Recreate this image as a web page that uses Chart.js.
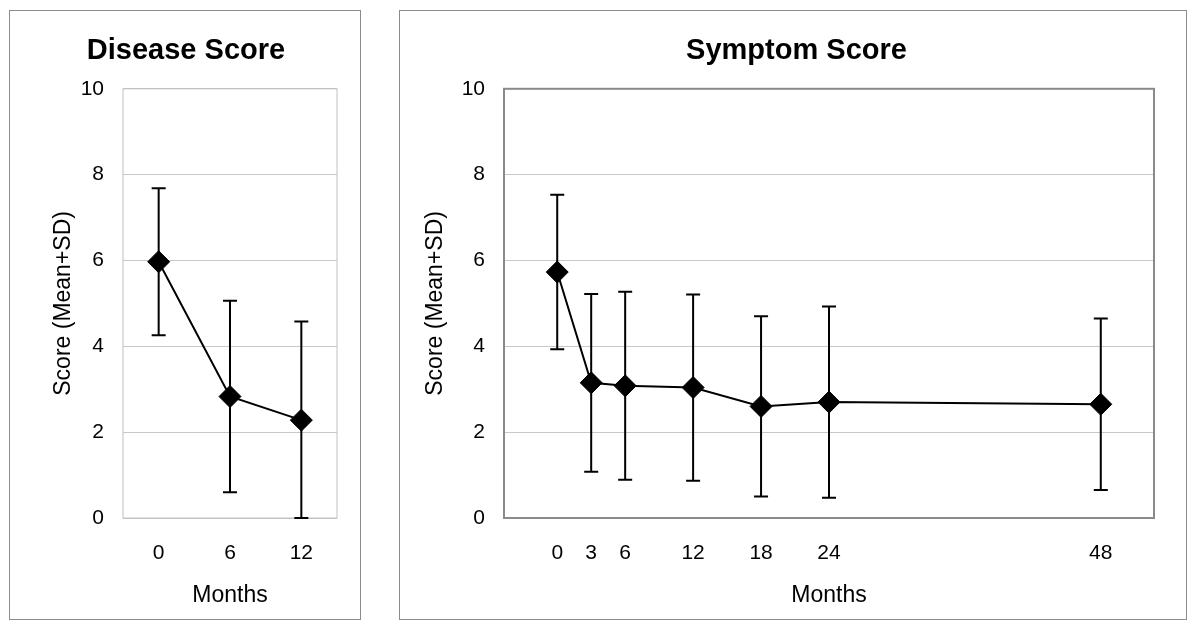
<!DOCTYPE html>
<html>
<head>
<meta charset="utf-8">
<script src="https://cdn.jsdelivr.net/npm/chart.js@4.4.1/dist/chart.umd.min.js"></script>
<style>
    body {
        margin: 0;
        background: #fff;
        width: 1200px;
        height: 630px;
        position: relative;
        overflow: hidden;
    }

    .panel {
        position: absolute;
        top: 10px;
        height: 608px;
        border: 1px solid #8c8c8c;
    }

    #boxA { left: 9px; width: 350px; }
    #boxB { left: 399px; width: 786px; }

    canvas { display: block; }
</style>
</head>
<body>

<div class="panel" id="boxA">
    <canvas id="diseaseChart" width="350" height="608"></canvas>
</div>
<div class="panel" id="boxB">
    <canvas id="symptomChart" width="786" height="608"></canvas>
</div>

<script>
// ==========================
// DATA
// ==========================

const diseaseMonths = ["0", "6", "12"];
const diseaseMean = [5.97, 2.83, 2.28];
const diseaseSD = [1.71, 2.23, 2.30];

const symptomMonths = [0, 3, 6, 12, 18, 24, 48];
const symptomMean = [5.73, 3.15, 3.08, 3.04, 2.60, 2.70, 2.65];
const symptomSD = [1.80, 2.07, 2.19, 2.17, 2.10, 2.23, 2.00];

const scoreTicks = [0, 2, 4, 6, 8, 10];


// ==========================
// PLUGINS
// ==========================

Chart.defaults.font.family = "'Liberation Sans', Arial, sans-serif";
Chart.defaults.color = "#000";

// box around the plot area
const frame = {
    id: "frame",
    beforeDatasetsDraw(chart, args, opts) {
        const a = chart.chartArea;
        const ctx = chart.ctx;
        ctx.save();
        ctx.strokeStyle = opts.color;
        ctx.lineWidth = opts.width;
        ctx.strokeRect(a.left, a.top, a.right - a.left, a.bottom - a.top);
        ctx.restore();
    }
};

// mean +/- SD whiskers, clipped at zero
const errorBars = {
    id: "errorBars",
    beforeDatasetsDraw(chart) {
        const ds = chart.data.datasets[0];
        const meta = chart.getDatasetMeta(0);
        const y = chart.scales.y;
        const ctx = chart.ctx;

        ctx.save();
        ctx.strokeStyle = "#000";
        ctx.lineWidth = 2;

        meta.data.forEach((pt, i) => {
            const m = ds.mean[i];
            const sd = ds.sd[i];
            const top = y.getPixelForValue(m + sd);
            const bot = y.getPixelForValue(Math.max(0, m - sd));

            ctx.beginPath();
            ctx.moveTo(pt.x, top);
            ctx.lineTo(pt.x, bot);
            ctx.moveTo(pt.x - 7, top);
            ctx.lineTo(pt.x + 7, top);
            ctx.moveTo(pt.x - 7, bot);
            ctx.lineTo(pt.x + 7, bot);
            ctx.stroke();
        });

        ctx.restore();
    }
};


// ==========================
// CHART
// ==========================

function seriesStyle(points, mean, sd) {
    return {
        data: points,
        mean: mean,
        sd: sd,
        borderColor: "#000",
        borderWidth: 2,
        tension: 0,
        fill: false,
        pointStyle: "rectRot",
        pointRadius: 11,
        pointBackgroundColor: "#000",
        pointBorderColor: "#000",
        pointBorderWidth: 1
    };
}

function yAxis(width, titlePad) {
    return {
        min: 0,
        max: 10,
        afterBuildTicks: s => {
            s.ticks = scoreTicks.map(v => ({ value: v }));
        },
        afterFit: s => {
            s.width = width;
        },
        grid: {
            color: "#c8c8c8",
            drawTicks: false
        },
        border: { display: false },
        ticks: {
            font: { size: 21 },
            padding: 19
        },
        title: {
            display: true,
            text: "Score (Mean+SD)",
            font: { size: 23 },
            padding: { top: titlePad, bottom: 0 }
        }
    };
}

function xCommon() {
    return {
        afterFit: s => {
            s.height = 101;
        },
        grid: { display: false, drawTicks: false },
        border: { display: false },
        ticks: {
            font: { size: 21 },
            padding: 23,
            autoSkip: false,
            maxRotation: 0
        },
        title: {
            display: true,
            text: "Months",
            font: { size: 23 },
            padding: { top: 0, bottom: 10 }
        }
    };
}

function titleOpts(text) {
    return {
        display: true,
        text: text,
        font: { size: 29, weight: "bold" },
        padding: { top: 23, bottom: 20 }
    };
}

new Chart(document.getElementById("diseaseChart"), {
    type: "line",
    data: {
        labels: diseaseMonths,
        datasets: [seriesStyle(diseaseMean, diseaseMean, diseaseSD)]
    },
    options: {
        responsive: false,
        animation: false,
        events: [],
        layout: {
            padding: { left: 25, right: 23, top: 0, bottom: 0 }
        },
        plugins: {
            legend: { display: false },
            tooltip: { enabled: false },
            title: titleOpts("Disease Score"),
            frame: { color: "#c0c0c0", width: 1 }
        },
        scales: {
            x: Object.assign(xCommon(), {
                type: "category",
                offset: true
            }),
            y: yAxis(88, 15)
        }
    },
    plugins: [frame, errorBars]
});

new Chart(document.getElementById("symptomChart"), {
    type: "line",
    data: {
        datasets: [seriesStyle(
            symptomMonths.map((m, i) => ({ x: m, y: symptomMean[i] })),
            symptomMean,
            symptomSD
        )]
    },
    options: {
        responsive: false,
        animation: false,
        events: [],
        layout: {
            padding: { left: 39, right: 32, top: 0, bottom: 0 }
        },
        plugins: {
            legend: { display: false },
            tooltip: { enabled: false },
            title: titleOpts("Symptom Score"),
            frame: { color: "#8a8a8a", width: 2 }
        },
        scales: {
            x: Object.assign(xCommon(), {
                type: "linear",
                min: -4.7,
                max: 52.7,
                afterBuildTicks: s => {
                    s.ticks = symptomMonths.map(v => ({ value: v }));
                }
            }),
            y: yAxis(65, -17)
        }
    },
    plugins: [frame, errorBars]
});
</script>
</body>
</html>
